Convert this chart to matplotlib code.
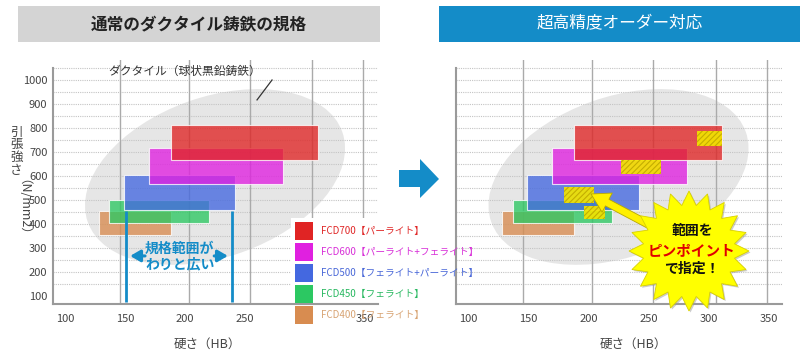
import numpy as np
import matplotlib.pyplot as plt
from matplotlib.patches import Rectangle, Ellipse, Polygon
from matplotlib.transforms import ScaledTranslation

plt.rcParams['font.family'] = ['Noto Sans CJK JP', 'DejaVu Sans']
plt.rcParams['hatch.linewidth'] = 0.8

# ダクタイル鋳鉄の規格 (下から順に描く)
grades = ['FCD400', 'FCD450', 'FCD500', 'FCD600', 'FCD700']
structure = ['フェライト', 'フェライト', 'フェライト+パーライト', 'パーライト+フェライト', 'パーライト']
hb_min = [128, 137, 149, 170, 188]
hb_max = [188, 220, 242, 282, 311]
ts_min = [354, 404, 458, 567, 667]
ts_max = [454, 500, 606, 718, 814]

# ピンポイント指定の範囲
pin_hb_min = [180, 196, 227, 290]
pin_hb_max = [205, 214, 260, 311]
pin_ts_min = [488, 421, 608, 725]
pin_ts_max = [554, 475, 667, 787]

hb_ticks = [100, 150, 200, 250, 300, 350]
ts_ticks = [100, 200, 300, 400, 500, 600, 700, 800, 900, 1000]
grid_hb = [146, 203, 254, 306, 348]
grid_ts = list(range(150, 1051, 50))

colors = ['#d88c50', '#2cc862', '#4468e0', '#e020e0', '#e02424']
text_colors = ['#d8a474', '#28b860', '#4a68d8', '#d830d8', '#e02828']

BLUE = '#148cc8'

fig = plt.figure(figsize=(8, 3.5), dpi=100)
ax1 = fig.add_axes([53 / 800, 46 / 350, 325 / 800, 244 / 350])
ax2 = fig.add_axes([456 / 800, 46 / 350, 326 / 800, 244 / 350])


def setup(ax, show_y):
    ax.add_patch(Ellipse((0, 0), 2.7, 1.6, angle=19.5, fc='#e6e6e6', ec='none', zorder=0,
                         transform=fig.dpi_scale_trans + ScaledTranslation(225, 596, ax.transData)))
    for y in grid_ts:
        ax.axhline(y, color='#c4c4c4', lw=0.8, ls=(0, (1, 1)), zorder=1)
    for x in grid_hb:
        ax.axvline(x, color='#aaaaaa', lw=1, zorder=1)
    w = np.array(hb_max) - np.array(hb_min)
    h = np.array(ts_max) - np.array(ts_min)
    ax.bar(hb_min, h, width=w, bottom=ts_min, align='edge', color=colors,
           alpha=0.78, edgecolor='white', lw=0.8, zorder=2)
    for s in ['top', 'right']:
        ax.spines[s].set_visible(False)
    for s in ['left', 'bottom']:
        ax.spines[s].set_color('#9a9a9a')
        ax.spines[s].set_linewidth(1.5)
    ax.spines['left'].set_bounds(66.7, 1050)
    ax.set_xticks(hb_ticks)
    ax.set_yticks(ts_ticks)
    ax.tick_params(length=0, labelsize=8, labelcolor='#444444')
    ax.tick_params(axis='x', pad=7)
    ax.tick_params(axis='y', pad=4)
    if not show_y:
        ax.set_yticklabels([])
    ax.set_xlabel('硬さ（HB）', fontsize=9, color='#444444')
    ax.set_xlim(90, 360.8)
    ax.set_ylim(66.7, 1083.3)


setup(ax1, True)
setup(ax2, False)
ax1.xaxis.set_label_coords(0.474, -0.14)
ax2.xaxis.set_label_coords(0.544, -0.14)

# 左: 規格範囲の注記
ax1.text(199.5, 1035, 'ダクタイル（球状黒鉛鋳鉄）', ha='center', va='center', fontsize=8.5, color='#333333')
ax1.plot([272.5, 260], [1000, 917], color='#333333', lw=0.9, zorder=3)
ax1.vlines([151, 239], 75, 455, color=BLUE, lw=2, zorder=3)
ax1.annotate('', xy=(152, 267), xytext=(169, 267),
             arrowprops=dict(arrowstyle='-|>,head_width=0.35,head_length=0.6', color=BLUE, lw=2.2))
ax1.annotate('', xy=(238, 267), xytext=(222, 267),
             arrowprops=dict(arrowstyle='-|>,head_width=0.35,head_length=0.6', color=BLUE, lw=2.2))
ax1.text(195.5, 265, '規格範囲が\nわりと広い', ha='center', va='center', fontsize=10,
         color=BLUE, weight='bold', linespacing=1.1, zorder=4)

# 右: ピンポイント範囲
pw = np.array(pin_hb_max) - np.array(pin_hb_min)
ph = np.array(pin_ts_max) - np.array(pin_ts_min)
ax2.bar(pin_hb_min, ph, width=pw, bottom=pin_ts_min, align='edge', color='#f2e400',
        alpha=0.92, hatch='//////', edgecolor='#c0aa00', lw=0, zorder=4)

# 装飾 (ピクセル座標)
deco = fig.add_axes([0, 0, 1, 1], zorder=5)
deco.set_xlim(0, 800)
deco.set_ylim(350, 0)
deco.axis('off')
deco.patch.set_alpha(0)

deco.add_patch(Rectangle((18, 6), 362, 36, fc='#d4d4d4', ec='none'))
deco.text(199, 24, '通常のダクタイル鋳鉄の規格', ha='center', va='center', fontsize=12,
          weight='bold', color='#222222')
deco.add_patch(Rectangle((439, 6), 361, 36, fc=BLUE, ec='none'))
deco.text(620, 24, '超高精度オーダー対応', ha='center', va='center', fontsize=12, color='white')

deco.add_patch(Polygon([(399, 170), (420, 170), (420, 159), (439, 179), (420, 198),
                        (420, 187), (399, 187)], fc=BLUE, ec='none'))

# 縦書きの軸ラベル
for j, ch in enumerate('引張強さ'):
    deco.text(16.5, 132 + j * 12.8, ch, ha='center', va='center', fontsize=9, color='#444444')
deco.text(16.5, 213, '（N/mm2）', ha='center', va='center', fontsize=9, color='#444444', rotation=270)

# 凡例 (白地は左グラフの目盛り数字の下に置く)
ax1.add_patch(Rectangle((291, 218), 88, 110, fc='white', ec='none', zorder=1.4,
                        clip_on=False, transform=deco.transData))
for i in range(len(grades)):
    k = len(grades) - 1 - i
    y0 = 222 + i * 21
    deco.add_patch(Rectangle((295, y0), 18, 18, fc=colors[k], ec='none'))
    deco.text(321, y0 + 9, f'{grades[k]}【{structure[k]}】', ha='left', va='center',
              fontsize=7, color=text_colors[k])

# 吹き出し
deco.annotate('', xy=(591, 194), xytext=(655, 228),
              arrowprops=dict(arrowstyle='simple,head_length=1.1,head_width=1.3,tail_width=0.45',
                              fc='#fff000', ec='#b8a800', lw=0.6, shrinkA=0, shrinkB=0,
                              mutation_scale=12))
n = 20
ang = np.linspace(0, 2 * np.pi, 2 * n, endpoint=False) + np.pi / 2
rad = np.where(np.arange(2 * n) % 2 == 0, 60, 46)
pts = np.column_stack([689 + rad * np.cos(ang), 251 + rad * np.sin(ang)])
deco.add_patch(Polygon(pts + 1.5, fc='#9a9a9a', ec='none', alpha=0.5, zorder=2))
deco.add_patch(Polygon(pts, fc='#ffff00', ec='#d8d000', lw=0.6, zorder=3))
deco.text(692, 231, '範囲を', ha='center', va='center', fontsize=10, weight='bold',
          color='#111111', zorder=4)
deco.text(692, 250, 'ピンポイント', ha='center', va='center', fontsize=10.5, weight='bold',
          style='italic', color='#e00000', zorder=4)
deco.text(692, 269, 'で指定！', ha='center', va='center', fontsize=10, weight='bold',
          color='#111111', zorder=4)

fig.savefig('out.png', dpi=100)
